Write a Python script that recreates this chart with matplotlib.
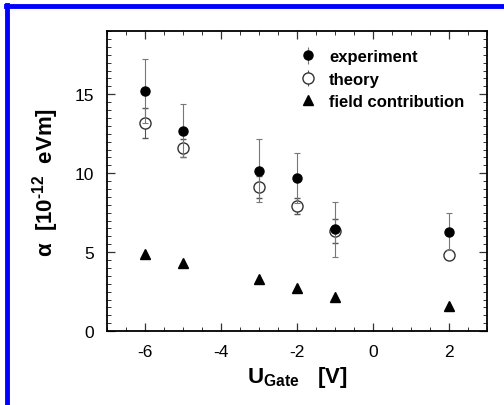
import numpy as np
import matplotlib.pyplot as plt
from matplotlib.lines import Line2D
from matplotlib.ticker import MultipleLocator

plt.rcParams['font.family'] = ['Liberation Sans', 'DejaVu Sans']
plt.rcParams['mathtext.fontset'] = 'custom'
plt.rcParams['mathtext.rm'] = 'Liberation Sans:bold'
plt.rcParams['mathtext.it'] = 'Liberation Sans:bold'
plt.rcParams['mathtext.bf'] = 'Liberation Sans:bold'

# gate voltage [V]
u_gate = np.array([-6, -5, -3, -2, -1, 2])
# experiment and its error
alpha_exp = np.array([15.2, 12.7, 10.15, 9.7, 6.45, 6.3])
err_exp = np.array([2.0, 1.7, 2.0, 1.6, 1.75, 1.15])
# theory and its error
alpha_th = np.array([13.2, 11.6, 9.1, 7.9, 6.35, 4.85])
err_th = np.array([0.95, 0.55, 0.7, 0.5, 0.75, 0.3])
# field contribution
alpha_field = np.array([4.9, 4.33, 3.28, 2.75, 2.19, 1.6])

fig = plt.figure(figsize=(5.04, 4.06), dpi=100)
ax = fig.add_axes([0.212, 0.182, 0.754, 0.739])

ax.errorbar(u_gate, alpha_exp, yerr=err_exp, fmt='o', color='black', ms=6.5,
            ecolor='#777777', elinewidth=0.8, capsize=2.5, capthick=0.8, zorder=3)
ax.errorbar(u_gate, alpha_th, yerr=err_th, fmt='o', mfc='white', mec='#333333',
            mew=1.0, ms=8, ecolor='#555555', elinewidth=0.8, capsize=2.5,
            capthick=0.8, zorder=2)
ax.plot(u_gate, alpha_field, '^', color='black', ms=6.5, zorder=3)

ax.set_xlim(-7, 3)
ax.set_ylim(0, 19)
ax.xaxis.set_major_locator(MultipleLocator(2))
ax.xaxis.set_minor_locator(MultipleLocator(0.5))
ax.yaxis.set_major_locator(MultipleLocator(5))
ax.yaxis.set_minor_locator(MultipleLocator(0.5))
ax.tick_params(which='both', direction='in', top=True, right=True,
               labelsize=12.5, color='#333333')
ax.tick_params(which='major', length=6, width=0.9, pad=9)
ax.tick_params(which='minor', length=3, width=0.7)
ax.set_xticks([-6, -4, -2, 0, 2])
ax.set_xticklabels(['-6', '-4', '-2', '0', '2'])
for s in ax.spines.values():
    s.set_linewidth(1.3)

ax.set_xlabel(r'U$_{\mathrm{Gate}}$   [V]', fontsize=16, fontweight='bold',
              labelpad=4)
ax.set_ylabel(r'α  [10$^{\mathrm{\text{-}12}}$  eVm]', fontsize=16,
              fontweight='bold', labelpad=10)

h_exp = ax.errorbar([], [], yerr=[], fmt='o', color='black', ms=6.5,
                    ecolor='#777777', elinewidth=0.8, capsize=2.5)
h_th = ax.errorbar([], [], yerr=[], fmt='o', mfc='white', mec='#333333',
                   ms=8, ecolor='#555555', elinewidth=0.8, capsize=2.5)
h_field = Line2D([], [], marker='^', ls='none', color='black', ms=6.5)
leg = ax.legend([h_exp, h_th, h_field],
                ['experiment', 'theory', 'field contribution'],
                loc='upper right', frameon=False,
                prop={'weight': 'bold', 'size': 12},
                handlelength=1.0, handletextpad=0.8, labelspacing=0.45,
                borderaxespad=0.6, bbox_to_anchor=(0.985, 0.995))

# blue frame round the figure (top and left edges visible)
fig.add_artist(Line2D([0.012, 1.0], [0.983, 0.983], color='#0000ff', lw=3.5,
                      transform=fig.transFigure))
fig.add_artist(Line2D([0.014, 0.014], [0.0, 0.985], color='#0000ff', lw=3.5,
                      transform=fig.transFigure))

fig.savefig('out.png', dpi=100)
